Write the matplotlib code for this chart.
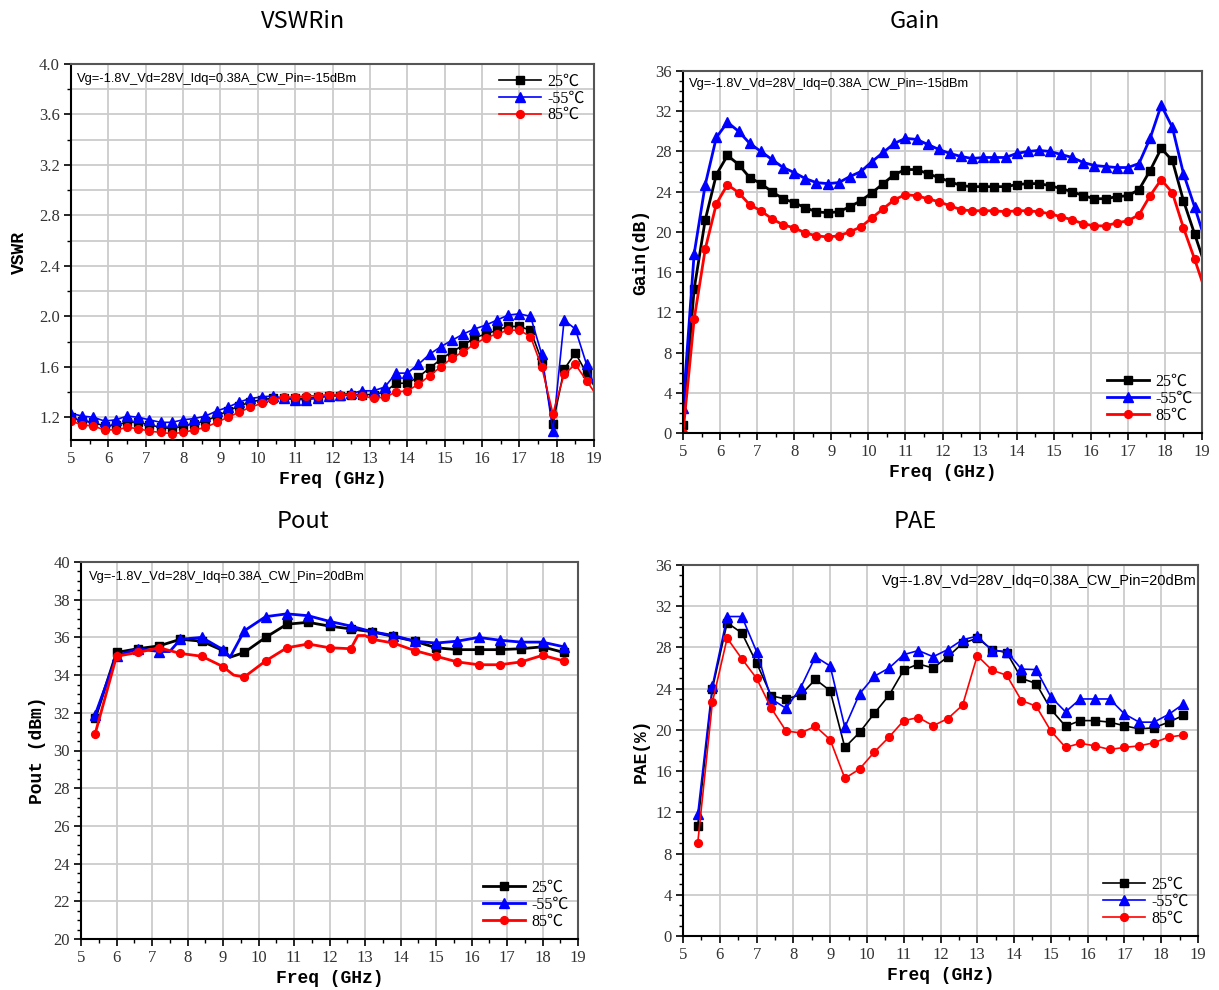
import numpy as np
import matplotlib
matplotlib.use('Agg')
from matplotlib import pyplot as plt
from matplotlib.ticker import MultipleLocator, FormatStrFormatter

# ---- data ----
temps = ['25℃', '-55℃', '85℃']
colors = ['#000000', '#0000ff', '#ff0000']
markers = ['s', '^', 'o']

# small signal sweep (0.3 GHz step)
ss_freq = [5.0, 5.3, 5.6, 5.9, 6.2, 6.5, 6.8, 7.1, 7.4, 7.7, 8.0, 8.3, 8.6, 8.9,
           9.2, 9.5, 9.8, 10.1, 10.4, 10.7, 11.0, 11.3, 11.6, 11.9, 12.2, 12.5,
           12.8, 13.1, 13.4, 13.7, 14.0, 14.3, 14.6, 14.9, 15.2, 15.5, 15.8,
           16.1, 16.4, 16.7, 17.0, 17.3, 17.6, 17.9, 18.2, 18.5, 18.8, 19.1]

vswr_25 = [1.20, 1.17, 1.16, 1.13, 1.14, 1.16, 1.16, 1.14, 1.12, 1.11, 1.13, 1.15,
           1.17, 1.21, 1.25, 1.29, 1.32, 1.34, 1.35, 1.35, 1.35, 1.35, 1.36, 1.37,
           1.37, 1.38, 1.38, 1.38, 1.40, 1.47, 1.47, 1.52, 1.59, 1.66, 1.72, 1.77,
           1.83, 1.86, 1.89, 1.92, 1.92, 1.89, 1.65, 1.15, 1.58, 1.71, 1.55, 1.40]
vswr_m55 = [1.23, 1.21, 1.20, 1.17, 1.18, 1.21, 1.20, 1.18, 1.16, 1.16, 1.18, 1.19,
            1.21, 1.25, 1.28, 1.32, 1.35, 1.36, 1.37, 1.35, 1.34, 1.34, 1.35, 1.37,
            1.38, 1.39, 1.41, 1.41, 1.44, 1.55, 1.55, 1.62, 1.70, 1.76, 1.81, 1.86,
            1.90, 1.93, 1.97, 2.01, 2.02, 2.00, 1.70, 1.09, 1.97, 1.90, 1.62, 1.38]
vswr_85 = [1.17, 1.14, 1.13, 1.10, 1.10, 1.12, 1.11, 1.09, 1.08, 1.07, 1.08, 1.10,
           1.12, 1.16, 1.20, 1.24, 1.28, 1.31, 1.34, 1.36, 1.36, 1.37, 1.37, 1.38,
           1.38, 1.38, 1.37, 1.35, 1.36, 1.40, 1.41, 1.46, 1.53, 1.60, 1.67, 1.72,
           1.78, 1.83, 1.86, 1.89, 1.89, 1.84, 1.60, 1.23, 1.54, 1.62, 1.49, 1.36]

gain_25 = [0.8, 14.3, 21.2, 25.7, 27.6, 26.7, 25.4, 24.8, 24.0, 23.3, 22.9, 22.4,
           22.0, 21.9, 22.0, 22.5, 23.1, 23.9, 24.8, 25.7, 26.2, 26.2, 25.8, 25.4,
           25.0, 24.6, 24.5, 24.5, 24.5, 24.5, 24.7, 24.8, 24.8, 24.6, 24.3, 24.0,
           23.6, 23.3, 23.3, 23.5, 23.6, 24.2, 26.1, 28.3, 27.1, 23.1, 19.8, 16.5]
gain_m55 = [2.5, 17.8, 24.7, 29.4, 30.9, 30.0, 28.8, 28.0, 27.2, 26.4, 25.9, 25.3,
            24.9, 24.8, 24.9, 25.5, 26.0, 27.0, 27.9, 28.8, 29.3, 29.2, 28.7, 28.2,
            27.8, 27.5, 27.3, 27.4, 27.4, 27.4, 27.8, 28.0, 28.1, 28.0, 27.7, 27.4,
            26.9, 26.6, 26.5, 26.4, 26.4, 26.8, 29.3, 32.6, 30.4, 25.8, 22.5, 19.0]
gain_85 = [0.0, 11.3, 18.3, 22.8, 24.7, 23.9, 22.7, 22.1, 21.3, 20.7, 20.4, 19.9,
           19.6, 19.5, 19.6, 20.0, 20.5, 21.4, 22.3, 23.2, 23.7, 23.6, 23.3, 23.0,
           22.6, 22.2, 22.1, 22.1, 22.1, 22.0, 22.1, 22.1, 22.0, 21.8, 21.5, 21.2,
           20.8, 20.6, 20.6, 20.9, 21.1, 21.7, 23.6, 25.2, 23.9, 20.4, 17.3, 14.0]

# large signal sweep: markers every 0.6 GHz, extra points where the trace kinks
pout_marker_freq = [5.4, 6.0, 6.6, 7.2, 7.8, 8.4, 9.0, 9.6, 10.2, 10.8, 11.4, 12.0,
                    12.6, 13.2, 13.8, 14.4, 15.0, 15.6, 16.2, 16.8, 17.4, 18.0, 18.6]
pout_freq_25 = [5.4, 6.0, 6.6, 7.2, 7.8, 8.4, 9.0, 9.2, 9.6, 10.2, 10.8, 11.4, 12.0,
                12.6, 13.2, 13.8, 14.4, 15.0, 15.6, 16.2, 16.8, 17.4, 18.0, 18.6]
pout_25 = [31.7, 35.2, 35.4, 35.55, 35.9, 35.8, 35.3, 34.95, 35.2, 36.0, 36.7, 36.8,
           36.6, 36.45, 36.3, 36.05, 35.8, 35.45, 35.35, 35.35, 35.35, 35.4, 35.5, 35.2]
pout_freq_m55 = [5.4, 6.0, 6.6, 7.2, 7.5, 7.8, 8.4, 9.0, 9.2, 9.6, 10.2, 10.8, 11.4,
                 12.0, 12.6, 13.2, 13.8, 14.4, 15.0, 15.6, 16.2, 16.8, 17.4, 18.0, 18.6]
pout_m55 = [31.9, 35.0, 35.4, 35.25, 35.25, 35.9, 36.0, 35.35, 34.95, 36.35, 37.1,
            37.25, 37.15, 36.85, 36.6, 36.3, 36.1, 35.8, 35.7, 35.8, 36.0, 35.85,
            35.75, 35.75, 35.5]
pout_freq_85 = [5.4, 6.0, 6.6, 7.2, 7.8, 8.4, 9.0, 9.3, 9.6, 10.2, 10.8, 11.4, 12.0,
                12.6, 12.8, 13.0, 13.2, 13.8, 14.4, 15.0, 15.6, 16.2, 16.8, 17.4,
                18.0, 18.6]
pout_85 = [30.9, 35.0, 35.2, 35.45, 35.15, 35.0, 34.45, 34.0, 33.9, 34.75, 35.45,
           35.65, 35.45, 35.4, 36.1, 36.1, 35.9, 35.7, 35.3, 35.0, 34.7, 34.55, 34.55,
           34.7, 35.05, 34.75]

pae_freq = [5.4, 5.8, 6.2, 6.6, 7.0, 7.4, 7.8, 8.2, 8.6, 9.0, 9.4, 9.8, 10.2, 10.6,
            11.0, 11.4, 11.8, 12.2, 12.6, 13.0, 13.4, 13.8, 14.2, 14.6, 15.0, 15.4,
            15.8, 16.2, 16.6, 17.0, 17.4, 17.8, 18.2, 18.6]
pae_25 = [10.7, 24.0, 30.4, 29.4, 26.5, 23.3, 23.0, 23.4, 24.9, 23.8, 18.3, 19.75,
          21.6, 23.35, 25.8, 26.4, 26.0, 27.1, 28.4, 28.9, 27.8, 27.5, 25.0, 24.5,
          22.0, 20.35, 20.9, 20.9, 20.75, 20.4, 20.1, 20.2, 20.75, 21.4]
pae_m55 = [11.8, 24.3, 31.0, 31.0, 27.6, 23.0, 22.1, 24.1, 27.1, 26.2, 20.25, 23.5,
           25.2, 26.0, 27.3, 27.7, 27.1, 27.8, 28.75, 29.1, 27.7, 27.6, 25.9, 25.85,
           23.2, 21.75, 23.0, 23.0, 23.0, 21.55, 20.75, 20.75, 21.5, 22.5]
pae_85 = [9.0, 22.7, 28.9, 26.9, 25.0, 22.1, 19.9, 19.7, 20.35, 19.05, 15.3, 16.2,
          17.85, 19.3, 20.9, 21.2, 20.4, 21.1, 22.4, 27.2, 25.8, 25.3, 22.85, 22.3,
          19.9, 18.3, 18.7, 18.45, 18.1, 18.3, 18.45, 18.75, 19.3, 19.5]

cond_ss = 'Vg=-1.8V_Vd=28V_Idq=0.38A_CW_Pin=-15dBm'
cond_ls = 'Vg=-1.8V_Vd=28V_Idq=0.38A_CW_Pin=20dBm'

SERIF = ['Liberation Serif', 'Noto Sans CJK SC', 'DejaVu Serif']
MONO = ['Liberation Mono', 'DejaVu Sans Mono']
SANS = ['Liberation Sans', 'DejaVu Sans']

W, H = 1219, 990
fig = plt.figure(figsize=(W / 100, H / 100), dpi=100)


def box(left, top, right, bottom):
    # pixel box -> figure fraction
    return [left / W, 1 - bottom / H, (right - left) / W, (bottom - top) / H]


def style(ax, ylim, ymaj, ymin, yfmt, grid_minor=False):
    ax.set_xlim(5, 19)
    ax.set_ylim(*ylim)
    ax.xaxis.set_major_locator(MultipleLocator(1))
    ax.xaxis.set_minor_locator(MultipleLocator(0.5))
    ax.yaxis.set_major_locator(MultipleLocator(ymaj))
    ax.yaxis.set_minor_locator(MultipleLocator(ymin))
    ax.yaxis.set_major_formatter(FormatStrFormatter(yfmt))
    ax.grid(which='major', color='#cccccc', lw=1.3)
    if grid_minor:
        ax.grid(which='minor', axis='y', color='#cccccc', lw=1.3)
    ax.set_axisbelow(True)
    ax.tick_params(which='major', direction='out', length=5, width=1.2,
                   labelsize=12, pad=3, top=False, right=False)
    ax.tick_params(which='minor', direction='out', length=3, width=1, top=False, right=False)
    for lab in ax.get_xticklabels() + ax.get_yticklabels():
        lab.set_family(SERIF)
        lab.set_color('#333333')
    for side in ['left', 'bottom']:
        ax.spines[side].set_color('black')
        ax.spines[side].set_linewidth(1.5)
    for side in ['top', 'right']:
        ax.spines[side].set_color('#555555')
        ax.spines[side].set_linewidth(1.5)
    ax.set_xlabel('Freq (GHz)', family=MONO, fontweight='bold', fontsize=13, labelpad=3)


def legend(ax, loc, anchor):
    ax.legend(loc=loc, bbox_to_anchor=anchor, frameon=False, handlelength=2.6,
              handletextpad=0.4, labelspacing=0.05, borderaxespad=0.2,
              prop={'family': SERIF, 'size': 11.5})


def marker_idx(xs, marks):
    return [i for i, x in enumerate(xs) if round(x, 1) in marks]


def msize(m):
    return 6.5 if m == '^' else 5.6


# VSWRin
ax1 = fig.add_axes(box(71, 64, 594, 440))
for ys, c, m, t in zip([vswr_25, vswr_m55, vswr_85], colors, markers, temps):
    ax1.plot(ss_freq, ys, color=c, marker=m, ms=msize(m), lw=1.2, label=t)
style(ax1, (1.02, 4.0), 0.4, 0.2, '%.1f', grid_minor=True)
ax1.set_ylabel('VSWR', family=MONO, fontweight='bold', fontsize=13, labelpad=8)
ax1.text(0.012, 0.975, cond_ss, transform=ax1.transAxes, ha='left', va='top',
         family=SANS, fontsize=9.3)
legend(ax1, 'upper right', (1.0, 1.0))

# Gain
ax2 = fig.add_axes(box(683, 71, 1202, 433))
for ys, c, m, t in zip([gain_25, gain_m55, gain_85], colors, markers, temps):
    ax2.plot(ss_freq, ys, color=c, marker=m, ms=msize(m), lw=2, label=t)
style(ax2, (0, 36), 4, 1, '%d')
ax2.set_ylabel('Gain(dB)', family=MONO, fontweight='bold', fontsize=13, labelpad=4)
ax2.text(0.012, 0.98, cond_ss, transform=ax2.transAxes, ha='left', va='top',
         family=SANS, fontsize=9.3)
legend(ax2, 'lower right', (1.0, 0.0))

# Pout
ax3 = fig.add_axes(box(81, 562, 578, 939))
for xs, ys, c, m, t in zip([pout_freq_25, pout_freq_m55, pout_freq_85],
                           [pout_25, pout_m55, pout_85], colors, markers, temps):
    ax3.plot(xs, ys, color=c, marker=m, ms=msize(m), lw=2, label=t,
             markevery=marker_idx(xs, pout_marker_freq))
style(ax3, (20, 40), 2, 0.5, '%d')
ax3.set_ylabel('Pout (dBm)', family=MONO, fontweight='bold', fontsize=13, labelpad=5)
ax3.text(0.015, 0.975, cond_ls, transform=ax3.transAxes, ha='left', va='top',
         family=SANS, fontsize=9.3)
legend(ax3, 'lower right', (1.0, 0.0))

# PAE
ax4 = fig.add_axes(box(683, 565, 1198, 936))
for ys, c, m, t in zip([pae_25, pae_m55, pae_85], colors, markers, temps):
    ax4.plot(pae_freq, ys, color=c, marker=m, ms=msize(m), lw=1.2, label=t)
style(ax4, (0, 36), 4, 1, '%d')
ax4.set_ylabel('PAE(%)', family=MONO, fontweight='bold', fontsize=13, labelpad=4)
ax4.text(0.997, 0.975, cond_ls, transform=ax4.transAxes, ha='right', va='top',
         family=SANS, fontsize=10.5)
legend(ax4, 'lower right', (1.0, 0.0))

# panel titles
for x, y, t in [(303, 22, 'VSWRin'), (915, 22, 'Gain'), (303, 522, 'Pout'), (915, 522, 'PAE')]:
    fig.text(x / W, 1 - y / H, t, ha='center', va='center', fontsize=17,
             family=['Noto Sans CJK SC', 'DejaVu Sans'])

fig.savefig('out.png', dpi=100)
